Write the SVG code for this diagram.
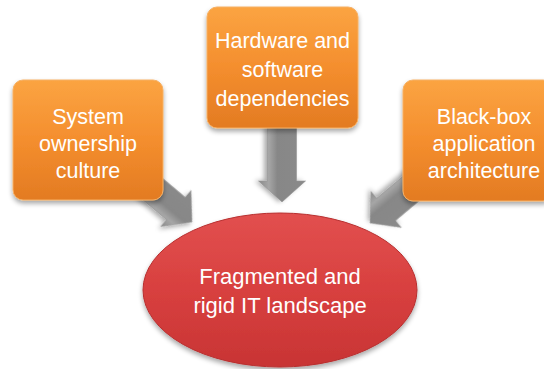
<svg xmlns="http://www.w3.org/2000/svg" width="544" height="369" viewBox="0 0 544 369">
  <defs>
    <linearGradient id="gBox" x1="0" y1="0" x2="0" y2="1">
      <stop offset="0" stop-color="#FBA442"/>
      <stop offset="0.5" stop-color="#F48E2E"/>
      <stop offset="1" stop-color="#E37B22"/>
    </linearGradient>
    <linearGradient id="gEll" x1="0" y1="0" x2="0" y2="1">
      <stop offset="0" stop-color="#E2504F"/>
      <stop offset="0.5" stop-color="#D8403F"/>
      <stop offset="1" stop-color="#C83434"/>
    </linearGradient>
    <linearGradient id="gArr" x1="0" y1="0" x2="0" y2="1">
      <stop offset="0" stop-color="#8A8A8A"/>
      <stop offset="0.6" stop-color="#878787"/>
      <stop offset="0.78" stop-color="#A6A6A6"/>
      <stop offset="1" stop-color="#8A8A8A"/>
    </linearGradient>
    <filter id="sh" x="-20%" y="-20%" width="140%" height="150%">
      <feGaussianBlur in="SourceAlpha" stdDeviation="2.5"/>
      <feOffset dx="0" dy="3" result="b"/>
      <feComponentTransfer><feFuncA type="linear" slope="0.35"/></feComponentTransfer>
      <feMerge><feMergeNode/><feMergeNode in="SourceGraphic"/></feMerge>
    </filter>
    <polygon id="arrow" points="-75,-14.5 -21,-14.5 -21,-23.5 0,0 -21,23.5 -21,14.5 -75,14.5"/>
  </defs>
  <style>
    .box { fill: url(#gBox); stroke: #F6B064; stroke-width: 1; filter: url(#sh); }
    .ell { fill: url(#gEll); stroke: #B83030; stroke-width: 1; filter: url(#sh); }
    .arr { fill: url(#gArr); stroke: #949494; stroke-width: 0.6; filter: url(#sh); }
    .t { font-family: "Liberation Sans", Arial, sans-serif; font-size: 21.5px; fill: #FFFFFF; text-anchor: middle; }
    .te { font-size: 22px; }
  </style>
  <rect width="544" height="369" fill="#FFFFFF"/>
  <g id="connectors">
    <use href="#arrow" class="arr" transform="translate(282,202) rotate(90)"/>
    <use href="#arrow" class="arr" transform="translate(192,222) rotate(40)"/>
    <use href="#arrow" class="arr" transform="translate(370,223) rotate(140)"/>
  </g>
  <g id="node-system-ownership">
    <rect class="box" x="13" y="80" width="150" height="120" rx="10"/>
    <text class="t" x="88" y="124">System</text>
    <text class="t" x="88" y="151">ownership</text>
    <text class="t" x="88" y="178">culture</text>
  </g>
  <g id="node-hardware-software">
    <rect class="box" x="207" y="7" width="151" height="121" rx="10"/>
    <text class="t" x="282.5" y="48">Hardware and</text>
    <text class="t" x="282.5" y="77">software</text>
    <text class="t" x="282.5" y="106">dependencies</text>
  </g>
  <g id="node-black-box">
    <rect class="box" x="403" y="80" width="150" height="121" rx="10"/>
    <text class="t" x="484" y="124">Black-box</text>
    <text class="t" x="484" y="151">application</text>
    <text class="t" x="484" y="178">architecture</text>
  </g>
  <g id="node-fragmented">
    <ellipse class="ell" cx="280" cy="290" rx="137" ry="77"/>
    <text class="t te" x="280" y="284">Fragmented and</text>
    <text class="t te" x="280" y="313">rigid IT landscape</text>
  </g>
</svg>
